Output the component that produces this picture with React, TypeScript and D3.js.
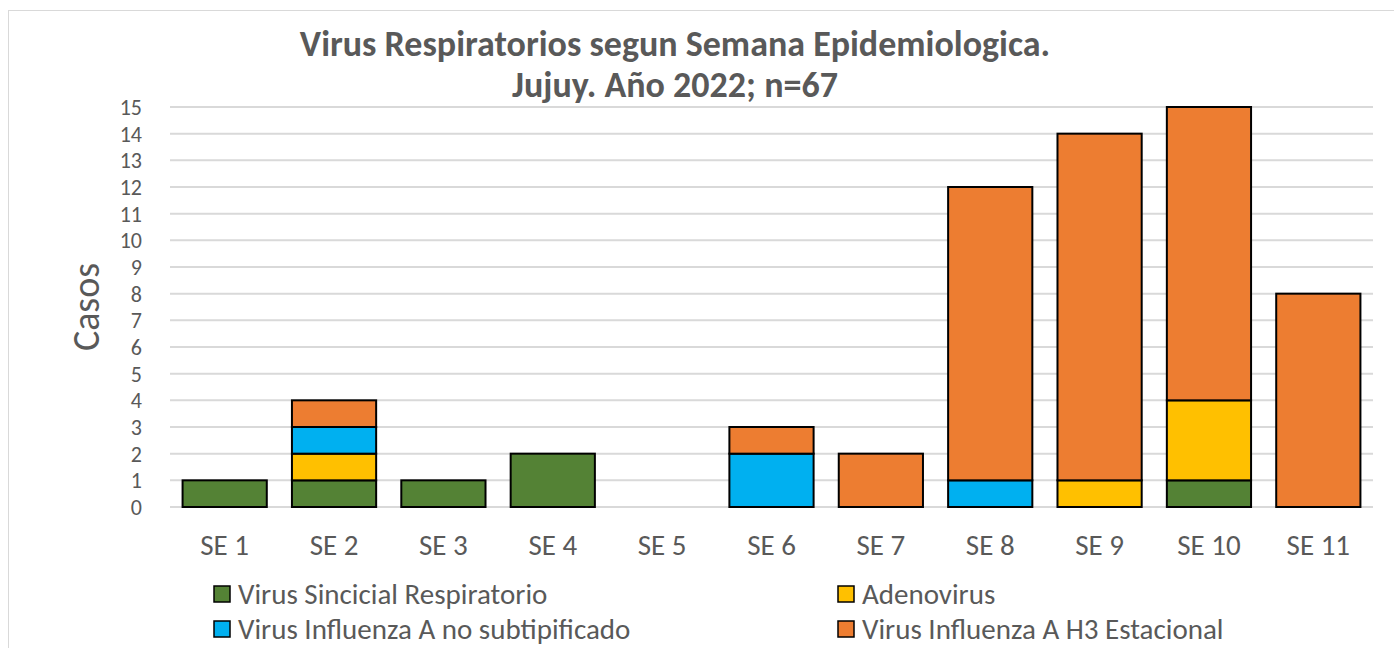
import { useEffect, useRef } from 'react';
import * as d3 from 'd3';

const weeks = ['SE 1', 'SE 2', 'SE 3', 'SE 4', 'SE 5', 'SE 6', 'SE 7', 'SE 8', 'SE 9', 'SE 10', 'SE 11'];
const sincicial = [1, 1, 1, 2, 0, 0, 0, 0, 0, 1, 0];
const adenovirus = [0, 1, 0, 0, 0, 0, 0, 0, 1, 3, 0];
const influenzaA = [0, 1, 0, 0, 0, 2, 0, 1, 0, 0, 0];
const h3 = [0, 1, 0, 0, 0, 1, 2, 11, 13, 11, 8];

const seriesNames = [
  'Virus Sincicial Respiratorio',
  'Adenovirus',
  'Virus Influenza A no subtipificado',
  'Virus Influenza A H3 Estacional',
];
const seriesColors = ['#548235', '#FFC000', '#00B0F0', '#ED7D31'];
const yTicks = d3.range(0, 16);

const App = () => {
  const svgRef = useRef<SVGSVGElement>(null);

  useEffect(() => {
    const svg = d3.select(svgRef.current);
    svg.selectAll('*').remove();

    const width = 1394;
    const height = 648;
    const font = 'Calibri, Carlito, "Open Sans", sans-serif';
    const textColor = '#595959';

    // Frame
    svg.append('rect')
      .attr('x', 8.5).attr('y', 10.5)
      .attr('width', width).attr('height', height)
      .attr('fill', '#fff').attr('stroke', '#d9d9d9').attr('stroke-width', 1);

    // Table for stacking
    const table = weeks.map((w, i) => ({
      week: w,
      s0: sincicial[i],
      s1: adenovirus[i],
      s2: influenzaA[i],
      s3: h3[i],
    }));
    const stacked = d3.stack<any>().keys(['s0', 's1', 's2', 's3'])(table);

    const x = d3.scaleBand()
      .domain(weeks)
      .range([170, 1373])
      .paddingInner(0.23)
      .paddingOuter(0.115);

    const y = d3.scaleLinear().domain([0, 15]).range([507, 107]);

    // Gridlines
    svg.append('g')
      .selectAll('line')
      .data(yTicks)
      .join('line')
      .attr('x1', 170).attr('x2', 1373)
      .attr('y1', d => y(d)).attr('y2', d => y(d))
      .attr('stroke', '#d9d9d9').attr('stroke-width', 2);

    // Y axis labels
    svg.append('g')
      .selectAll('text')
      .data(yTicks)
      .join('text')
      .attr('x', 142).attr('y', d => y(d))
      .attr('dy', '0.36em')
      .attr('text-anchor', 'end')
      .attr('font-family', font).attr('font-size', 22)
      .attr('fill', textColor)
      .text(d => d);

    // Bars
    svg.append('g')
      .selectAll('g')
      .data(stacked)
      .join('g')
      .attr('fill', (_, i) => seriesColors[i])
      .selectAll('rect')
      .data(d => d.filter(p => p[1] - p[0] > 0))
      .join('rect')
      .attr('x', d => x(d.data.week)!)
      .attr('y', d => y(d[1]))
      .attr('width', x.bandwidth())
      .attr('height', d => y(d[0]) - y(d[1]))
      .attr('stroke', '#000').attr('stroke-width', 2);

    // X labels
    svg.append('g')
      .selectAll('text')
      .data(weeks)
      .join('text')
      .attr('x', d => x(d)! + x.bandwidth() / 2)
      .attr('y', 555)
      .attr('text-anchor', 'middle')
      .attr('font-family', font).attr('font-size', 29)
      .attr('fill', textColor)
      .text(d => d);

    // Y axis title
    svg.append('text')
      .attr('transform', `translate(99,307) rotate(-90)`)
      .attr('text-anchor', 'middle')
      .attr('font-family', font).attr('font-size', 38)
      .attr('fill', textColor)
      .text('Casos');

    // Title
    const title = svg.append('text')
      .attr('text-anchor', 'middle')
      .attr('font-family', font).attr('font-size', 36).attr('font-weight', 'bold')
      .attr('fill', textColor);
    title.append('tspan').attr('x', 675).attr('y', 56).text('Virus Respiratorios segun Semana Epidemiologica.');
    title.append('tspan').attr('x', 675).attr('y', 97).text('Jujuy. Año 2022; n=67');

    // Legend
    const legendPos = [
      [214, 594], [838, 594], [214, 629], [838, 629],
    ];
    const order = [0, 1, 2, 3];
    const legend = svg.append('g')
      .selectAll('g')
      .data(order)
      .join('g')
      .attr('transform', (_, i) => `translate(${legendPos[i][0]},${legendPos[i][1]})`);
    legend.append('rect')
      .attr('x', 0).attr('y', -8).attr('width', 16).attr('height', 16)
      .attr('fill', d => seriesColors[d])
      .attr('stroke', '#000').attr('stroke-width', 1.5);
    legend.append('text')
      .attr('x', 24).attr('dy', '0.36em')
      .attr('font-family', font).attr('font-size', 29)
      .attr('fill', textColor)
      .text(d => seriesNames[d]);
  }, []);

  return (
    <div style={{ width: '100%' }}>
      <svg ref={svgRef} width={1394} height={648} style={{ position: 'absolute', left: 0, top: 0 }} />
    </div>
  );
};

export default App;
